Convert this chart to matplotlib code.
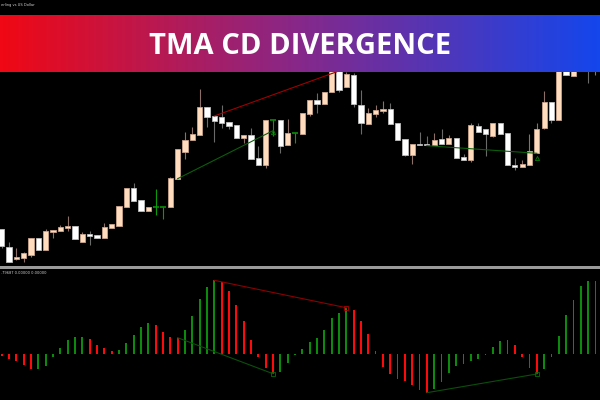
import numpy as np
import matplotlib
matplotlib.use('Agg')
import matplotlib.pyplot as plt
from matplotlib.colors import LinearSegmentedColormap
from matplotlib.patches import Rectangle

# ---- price candles (chart units: higher value = higher price) ----
opens = [40.7, 23.3, 11, 12, 15, 32.3, 20, 38, 39, 42.3,
         44.3, 28.3, 36.3, 35, 31.7, 42.3, 44.3, 63.3, 81.7, 70.3,
         58.7, 63, 63, 63.3, 91.3, 118.3, 130, 135, 163, 154,
         152.7, 147.7, 145, 132.3, 135.3, 111.7, 105, 149.7, 149.7, 124.7,
         137, 136, 156.3, 170, 166.3, 177.7, 200, 183.3, 195.3, 165,
         145.7, 156.3, 159, 161, 147.3, 131, 115.3, 126.3, 126.3, 124.7,
         131, 125.7, 131.7, 113.3, 110, 144.3, 141, 134.3, 146.7, 137,
         105, 102.7, 105, 117.3, 142.3, 168.3, 149.7, 200, 194, 205,
         212, 206]
highs = [40.7, 28.3, 21.7, 18.3, 31.7, 32.3, 40.7, 40, 45, 54,
         44.3, 37.7, 39, 35, 46.7, 46.3, 64.3, 81.7, 87, 70.3,
         63, 80.7, 63, 93.3, 120.7, 138, 143.3, 181, 163, 154,
         165, 147.7, 145, 135.3, 141.7, 124, 149.7, 149.7, 149.7, 150.7,
         137, 157.3, 170.3, 177.3, 178.3, 202, 204, 198, 197, 180,
         162.3, 164.7, 168.7, 167.3, 147.3, 131, 126.3, 138, 134, 136.7,
         141, 135, 131.7, 116, 147.3, 146.7, 141, 146.7, 146.7, 137,
         111.7, 110, 136, 146.7, 179, 168.3, 205, 206, 203, 215,
         220, 214]
lows = [21.7, 8, 10, 8.3, 13.3, 20, 20, 32, 39, 39.3,
        30.7, 28.3, 25, 31.7, 31.7, 42.3, 44.3, 63.3, 69, 58.7,
        58.7, 55, 50.7, 63.3, 91.3, 111.3, 130, 135, 143.3, 128.3,
        142.3, 141, 132.3, 126.7, 111, 105, 102.3, 134, 117.3, 124.7,
        126.7, 136, 154.3, 156.7, 166.3, 177.7, 178.3, 183.3, 162.7, 136,
        145.7, 153.3, 156.7, 145.7, 130, 113.7, 105.7, 124.7, 124.7, 124.7,
        125.7, 125.7, 112.3, 110, 108.3, 138.3, 114.3, 133.3, 136, 105,
        100, 102.7, 105, 117.3, 140.7, 147.3, 149.7, 194.7, 194, 200,
        187.3, 195.3]
closes = [24.3, 8, 13, 17.3, 31.7, 20, 39, 40, 43, 44.3,
          30.7, 35.7, 34.3, 31.7, 43, 46.3, 64.3, 81.7, 69, 58.7,
          63, 63, 63, 92, 120.7, 129.7, 136, 163, 153.3, 149,
          146.7, 144.3, 132.3, 135.3, 111, 105, 149.7, 149.7, 123.7, 137,
          137, 157.3, 170.3, 166.3, 178.3, 200, 179.7, 196, 165.7, 146.7,
          157, 159.7, 161, 145.7, 130, 115.3, 126.3, 124.7, 124.7, 129.7,
          125.7, 131.7, 112.3, 110, 145, 138.3, 136, 146.7, 136, 105,
          102.7, 106, 119, 141, 168.3, 149.7, 202, 194.7, 200, 212,
          206, 210]

# ---- TMA CD histogram ----
hist = [-2, -5, -7, -11, -15.3, -14.7, -11.7, -3, 5.7, 13.7,
        17, 17, 15, 9.3, 5.7, 3, 4, 11, 18.7, 27,
        31.3, 28.7, 22.3, 17, 16.3, 23.7, 38, 55, 67, 73.7,
        72.3, 63, 49, 33, 14.3, -2.7, -13.7, -19.7, -17.7, -8.7,
        -1, 5, 11.7, 16.3, 24.3, 36.3, 41.3, 46.3, 44, 33,
        20.3, 3, -12.7, -20, -25, -27, -31, -36, -38.7, -35.3,
        -28, -19.3, -12, -9.7, -6.7, -5, -1, 7.3, 12.7, 14,
        9, -2.7, -14.3, -20, -15, -2.7, 18.3, 38.7, 54, 68,
        73.3, 72.7]

# ---- divergence lines: (start bar, start value, end bar, end value, kind) ----
price_div = [(24, 91.3, 37, 139.3, 'bull'),
             (29, 154.0, 46, 199.0, 'bear'),
             (58, 124.3, 73, 116.7, 'bull')]
hist_div = [(24, 16.3, 37, -19.7, 'bull'),
            (29, 73.7, 47, 46.3, 'bear'),
            (58, -38.7, 73, -20.0, 'bull')]
price_arrows = [(37, 138.3), (73, 112.3)]

title = 'TMA CD DIVERGENCE'
symbol_text = 'erling vs US Dollar'
ind_text = '.79687 0.00000 0.00000'

W, H = 600, 400
fig = plt.figure(figsize=(6, 4), dpi=100, facecolor='black')

x = np.arange(len(opens))
xlim = (-0.232, 81.62)

# ---------------- price panel ----------------
ax = fig.add_axes([0, 134 / H, 1, 266 / H])
ax.set_facecolor('black')
o = np.array(opens); c = np.array(closes); hi = np.array(highs); lo = np.array(lows)
bull = c > o
bear = c < o
doji = c == o
GREEN = '#0a9a0a'
ax.vlines(x[bull], lo[bull], hi[bull], color='#8a7068', lw=0.8, zorder=1)
ax.vlines(x[bear], lo[bear], hi[bear], color='#6a6a6a', lw=0.8, zorder=1)
ax.bar(x[bull], (c - o)[bull], bottom=o[bull], width=0.72, color='#ffdcbd',
       edgecolor='#c9a48c', lw=0.6, zorder=2)
ax.bar(x[bear], (o - c)[bear], bottom=c[bear], width=0.72, color='#ffffff',
       edgecolor='#bdbdbd', lw=0.6, zorder=2)
ax.vlines(x[doji], lo[doji], hi[doji], color=GREEN, lw=0.8, zorder=2)
ax.hlines(o[doji], x[doji] - 0.4, x[doji] + 0.4, color=GREEN, lw=1.1, zorder=2)
for b0, v0, b1, v1, kind in price_div:
    ax.plot([b0, b1], [v0, v1], color='#0b5e0b' if kind == 'bull' else '#a00000',
            lw=0.8, zorder=3)
for b, v in price_arrows:
    ax.plot([b], [v], marker='^', ms=3, mfc='none', mec='#0b7a0b', mew=0.6, zorder=3)
ax.set_xlim(*xlim)
ax.set_ylim(4, 270)
ax.axis('off')

# separator
fig.patches.append(Rectangle((0, (H - 268.5) / H), 1, 2.2 / H, transform=fig.transFigure,
                             facecolor='#9a9a9a', edgecolor='none'))

# ---------------- histogram panel ----------------
hx = fig.add_axes([0, 0, 1, 131 / H])
hx.set_facecolor('black')
hv = np.array(hist)
cols = ['#ff0a0a' if i == 0 or hv[i] < hv[i - 1] else '#0b8a0b' for i in range(len(hv))]
hx.bar(x, hv, width=0.26, color=cols, zorder=2)
for b0, v0, b1, v1, kind in hist_div:
    hx.plot([b0, b1], [v0, v1], color='#0b4f0b' if kind == 'bull' else '#8b0000',
            lw=0.8, zorder=3)
    hx.plot([b1], [v1], marker='s', ms=2.5, mfc='none',
            mec='#0b6a0b' if kind == 'bull' else '#b00000', mew=0.6, zorder=3)
hx.set_xlim(*xlim)
hx.set_ylim(-46, 85)
hx.axis('off')

# ---------------- banner ----------------
bax = fig.add_axes([0, (H - 72) / H, 1, 57 / H])
cmap = LinearSegmentedColormap.from_list('banner', ['#f00814', '#86288a', '#1446ec'])
grad = np.linspace(0, 1, 600).reshape(1, -1)
bax.imshow(grad, aspect='auto', cmap=cmap, extent=(0, 1, 0, 1))
bax.axis('off')
fig.text(0.5, (H - 54) / H, title, ha='center', va='baseline', color='white',
         fontsize=21, fontweight='bold', family=['Open Sans', 'DejaVu Sans'])

fig.text(1 / W, 1 - 5 / H, symbol_text, ha='left', va='center', fontsize=2.6,
         color='#d0d0d0')
fig.text(1 / W, (H - 272.5) / H, ind_text, ha='left', va='center', fontsize=2.6,
         color='#d0d0d0')

fig.savefig('out.png', dpi=100, facecolor='black')
